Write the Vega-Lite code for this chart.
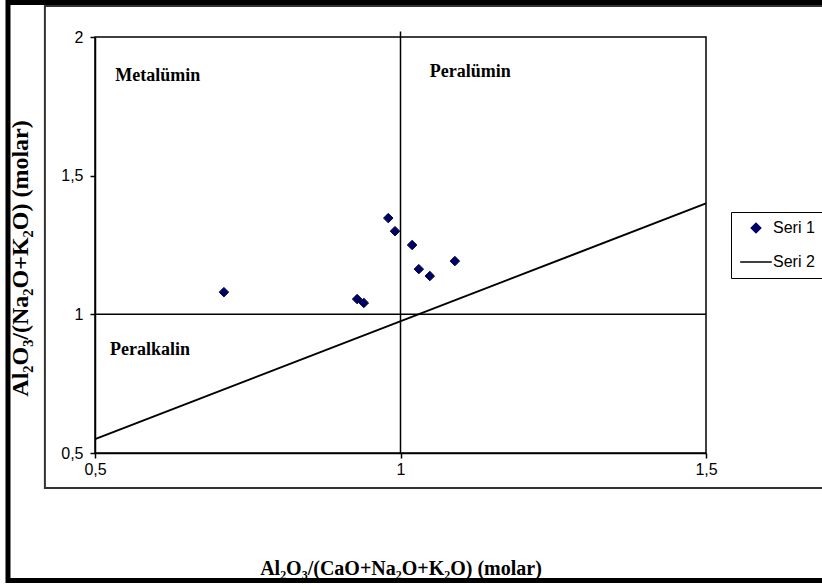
{
  "$schema": "https://vega.github.io/schema/vega-lite/v6.json",
  "width": 611,
  "height": 416,
  "autosize": {"type": "none"},
  "padding": {"left": 95, "top": 37, "right": 116, "bottom": 132},
  "background": "white",
  "config": {
    "view": {"stroke": "black", "strokeWidth": 1.5},
    "axis": {
      "grid": false,
      "labelFont": "Liberation Sans",
      "labelFontSize": 16,
      "labelColor": "black",
      "labelFlush": false,
      "domainColor": "black",
      "domainWidth": 1.5,
      "tickColor": "black",
      "tickWidth": 1.5,
      "tickSize": 5,
      "titleFont": "Liberation Serif",
      "titleFontWeight": "bold",
      "titleColor": "black"
    }
  },
  "datasets": {
    "pts": [
      {"x": 0.711, "y": 1.080, "series": "Seri 1"},
      {"x": 0.929, "y": 1.055, "series": "Seri 1"},
      {"x": 0.940, "y": 1.041, "series": "Seri 1"},
      {"x": 0.980, "y": 1.347, "series": "Seri 1"},
      {"x": 0.991, "y": 1.300, "series": "Seri 1"},
      {"x": 1.019, "y": 1.250, "series": "Seri 1"},
      {"x": 1.030, "y": 1.163, "series": "Seri 1"},
      {"x": 1.048, "y": 1.138, "series": "Seri 1"},
      {"x": 1.089, "y": 1.192, "series": "Seri 1"}
    ],
    "seri2": [
      {"x": 0.5, "y": 0.55, "series": "Seri 2"},
      {"x": 1.5, "y": 1.4, "series": "Seri 2"}
    ],
    "refs": [
      {"x": 0.5, "x2": 1.5, "y": 1.0, "y2": 1.0},
      {"x": 1.0, "x2": 1.0, "y": 0.5, "y2": 2.02}
    ],
    "labels": [
      {"x": 0.533, "y": 1.859, "label": "Metalümin"},
      {"x": 1.048, "y": 1.874, "label": "Peralümin"},
      {"x": 0.5245, "y": 0.871, "label": "Peralkalin"}
    ]
  },
  "layer": [
    {
      "data": {"values": [{}]},
      "mark": {"type": "rect", "fill": "transparent", "stroke": "black", "strokeWidth": 5, "clip": false},
      "encoding": {
        "x": {"datum": 0.3576, "type": "quantitative", "scale": {"domain": [0.5, 1.5], "nice": false, "zero": false}},
        "x2": {"datum": 1.8},
        "y": {"datum": 2.1244, "type": "quantitative", "scale": {"domain": [0.5, 2], "nice": false, "zero": false}},
        "y2": {"datum": 0.04}
      }
    },
    {
      "data": {"values": [{}]},
      "mark": {"type": "rect", "fill": "transparent", "stroke": "#333333", "strokeWidth": 2, "clip": false},
      "encoding": {
        "x": {"datum": 0.418, "type": "quantitative"},
        "x2": {"datum": 1.8},
        "y": {"datum": 2.1118, "type": "quantitative"},
        "y2": {"datum": 0.3737}
      }
    },
    {
      "data": {"name": "refs"},
      "mark": {"type": "rule", "color": "black", "strokeWidth": 1.5, "clip": false},
      "encoding": {
        "x": {"field": "x", "type": "quantitative"},
        "x2": {"field": "x2"},
        "y": {"field": "y", "type": "quantitative"},
        "y2": {"field": "y2"}
      }
    },
    {
      "data": {"name": "pts"},
      "mark": {"type": "point", "filled": true, "opacity": 1, "strokeWidth": 1, "stroke": "#000033"},
      "encoding": {
        "x": {
          "field": "x", "type": "quantitative",
          "axis": {
            "values": [0.5, 1, 1.5],
            "labelExpr": "replace(toString(datum.value), '.', ',')",
            "labelPadding": 3,
            "title": "Al₂O₃/(CaO+Na₂O+K₂O) (molar)",
            "titleFontSize": 20,
            "titlePadding": 81
          }
        },
        "y": {
          "field": "y", "type": "quantitative",
          "axis": {
            "values": [0.5, 1, 1.5, 2],
            "labelExpr": "replace(toString(datum.value), '.', ',')",
            "labelPadding": 7,
            "title": "Al₂O₃/(Na₂O+K₂O) (molar)",
            "titleFontSize": 24,
            "titlePadding": 28,
            "titleY": 221
          }
        },
        "color": {
          "field": "series", "type": "nominal",
          "scale": {"domain": ["Seri 1", "Seri 2"], "range": ["#00006b", "#000000"]},
          "legend": {
            "orient": "none",
            "legendX": 636,
            "legendY": 175,
            "title": null,
            "strokeColor": "black",
            "fillColor": "white",
            "padding": 8,
            "labelFont": "Liberation Sans",
            "labelFontSize": 16,
            "labelColor": "black",
            "labelOffset": 0,
            "rowPadding": 9,
            "symbolStrokeWidth": 1.5
          }
        },
        "shape": {
          "field": "series", "type": "nominal",
          "scale": {"domain": ["Seri 1", "Seri 2"], "range": ["diamond", "stroke"]},
          "legend": {
            "orient": "none",
            "legendX": 636,
            "legendY": 175,
            "title": null
          }
        },
        "size": {
          "field": "series", "type": "nominal",
          "scale": {"type": "ordinal", "domain": ["Seri 1", "Seri 2"], "range": [90, 1000]},
          "legend": {
            "orient": "none",
            "legendX": 636,
            "legendY": 175,
            "title": null
          }
        }
      }
    },
    {
      "data": {"name": "seri2"},
      "mark": {"type": "line", "strokeWidth": 2},
      "encoding": {
        "x": {"field": "x", "type": "quantitative"},
        "y": {"field": "y", "type": "quantitative"},
        "color": {"field": "series", "type": "nominal"}
      }
    },
    {
      "data": {"name": "labels"},
      "mark": {"type": "text", "align": "left", "baseline": "middle", "font": "Liberation Serif", "fontWeight": "bold", "fontSize": 18, "color": "black"},
      "encoding": {
        "x": {"field": "x", "type": "quantitative"},
        "y": {"field": "y", "type": "quantitative"},
        "text": {"field": "label"}
      }
    }
  ]
}
